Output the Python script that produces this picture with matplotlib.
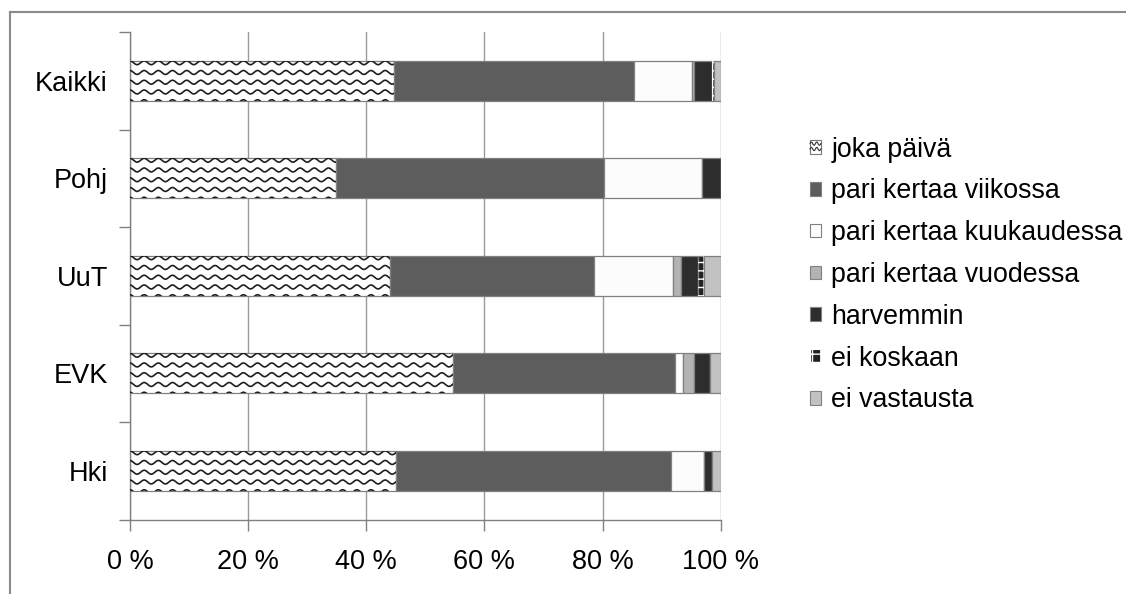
import matplotlib
matplotlib.use("Agg")
import matplotlib.pyplot as plt
import numpy as np
from matplotlib.legend_handler import HandlerBase
from matplotlib.lines import Line2D
from matplotlib.patches import Patch, Rectangle


groups = ["Hki", "EVK", "UuT", "Pohj", "Kaikki"]
series_names = [
    "joka päivä",
    "pari kertaa viikossa",
    "pari kertaa kuukaudessa",
    "pari kertaa vuodessa",
    "harvemmin",
    "ei koskaan",
    "ei vastausta",
]
# shares in percent, one list per answer, in the order of groups
joka_paiva = [45.0, 54.6, 44.0, 34.9, 44.7]
viikossa = [46.6, 37.7, 34.6, 45.4, 40.6]
kuukaudessa = [5.6, 1.4, 13.3, 16.5, 9.9]
vuodessa = [0.0, 1.7, 1.3, 0.0, 0.3]
harvemmin = [1.4, 2.8, 2.9, 3.2, 3.0]
ei_koskaan = [0.0, 0.0, 1.1, 0.0, 0.3]
ei_vastausta = [1.4, 1.8, 2.8, 0.0, 1.2]

values = [joka_paiva, viikossa, kuukaudessa, vuodessa, harvemmin, ei_koskaan, ei_vastausta]
colors = ["white", "#5d5d5d", "#fcfcfc", "#b3b3b3", "#2d2d2d", "#222222", "#c2c2c2"]

EDGE = "#808080"
BAR_H = 0.41

plt.rcParams["font.family"] = ["Liberation Sans", "DejaVu Sans"]

fig = plt.figure(figsize=(11.26, 5.94), dpi=100)
ax = fig.add_axes([130 / 1126, 1 - 519.5 / 594, (720.7 - 130) / 1126, (519.5 - 32) / 594])

y = np.arange(len(groups))
left = np.zeros(len(groups))


def wave_fill(ax, x0, width, yc, height):
    # wavy line pattern clipped to the bar
    clip = Rectangle((x0, yc - height / 2), width, height, transform=ax.transData)
    period = 2.4
    amp = 0.02
    step = 0.1
    xs = np.linspace(x0 - period, x0 + width + period, 400)
    rows = np.arange(yc + height / 2, yc - height / 2 - step, -step)
    for r in rows:
        ln, = ax.plot(xs, r - amp + amp * np.cos(2 * np.pi * (xs - x0) / period),
                      color="#1e1e1e", lw=1.2, zorder=3)
        ln.set_clip_path(clip)


for i, (vals, col) in enumerate(zip(values, colors)):
    vals = np.array(vals)
    ax.barh(y, vals, left=left, height=BAR_H, color=col, edgecolor=EDGE,
            linewidth=0.9, zorder=2)
    if i == 0:
        for yi, w in zip(y, vals):
            wave_fill(ax, 0, w, yi, BAR_H)
    if i == 5:
        ax.barh(y, vals, left=left, height=BAR_H, color="none", edgecolor="white",
                linewidth=0, hatch="++", zorder=3)
    left = left + vals

ax.set_xlim(0, 100)
ax.set_ylim(-0.5, len(groups) - 0.5)
ax.set_xticks(np.arange(0, 101, 20))
ax.set_xticklabels([f"{v} %" for v in range(0, 101, 20)])
ax.set_yticks(y)
ax.set_yticklabels(groups)
ax.set_yticks(np.arange(-0.5, len(groups), 1), minor=True)
ax.tick_params(axis="y", which="major", length=0, pad=16, labelsize=19.5)
ax.tick_params(axis="y", which="minor", length=8, color=EDGE, width=1)
ax.tick_params(axis="x", length=8, color=EDGE, width=1, pad=13, labelsize=19.5)
ax.xaxis.grid(True, color="#9a9a9a", lw=1, zorder=0)
ax.set_axisbelow(True)
for s in ["top", "right"]:
    ax.spines[s].set_visible(False)
for s in ["left", "bottom"]:
    ax.spines[s].set_color(EDGE)
    ax.spines[s].set_linewidth(1)


class WaveHandler(HandlerBase):
    def create_artists(self, legend, orig_handle, xdescent, ydescent, width, height,
                       fontsize, trans):
        rect = Rectangle((-xdescent, -ydescent), width, height, facecolor="white",
                         edgecolor="#777777", lw=0.8, transform=trans)
        xs = np.linspace(-xdescent, -xdescent + width, 30)
        arts = [rect]
        for frac in (0.35, 0.75):
            ys = -ydescent + height * frac + height * 0.12 * np.sin(xs / width * 4 * np.pi)
            arts.append(Line2D(xs, ys, color="#333333", lw=0.8, transform=trans))
        return arts


handles = [Patch(facecolor="white", edgecolor=EDGE)]
handles += [Patch(facecolor=c, edgecolor=EDGE, linewidth=0.8) for c in colors[1:5]]
handles += [Patch(facecolor="#222222", edgecolor="white", hatch="++", linewidth=0.8)]
handles += [Patch(facecolor=colors[6], edgecolor=EDGE, linewidth=0.8)]

fig.legend(handles, series_names, loc="center left", bbox_to_anchor=(0.7194, 0.537),
           frameon=False, fontsize=19.3, handlelength=0.4, handleheight=0.4,
           handletextpad=0.4, labelspacing=0.59, borderpad=0, borderaxespad=0,
           handler_map={handles[0]: WaveHandler()})

# outer chart border
fig.add_artist(Line2D([10 / 1126, 10 / 1126], [0, 1 - 12 / 594], color="#8a8a8a", lw=1.5))
fig.add_artist(Line2D([10 / 1126, 1], [1 - 12 / 594, 1 - 12 / 594], color="#8a8a8a", lw=1.5))

fig.savefig("out.png", dpi=100)
